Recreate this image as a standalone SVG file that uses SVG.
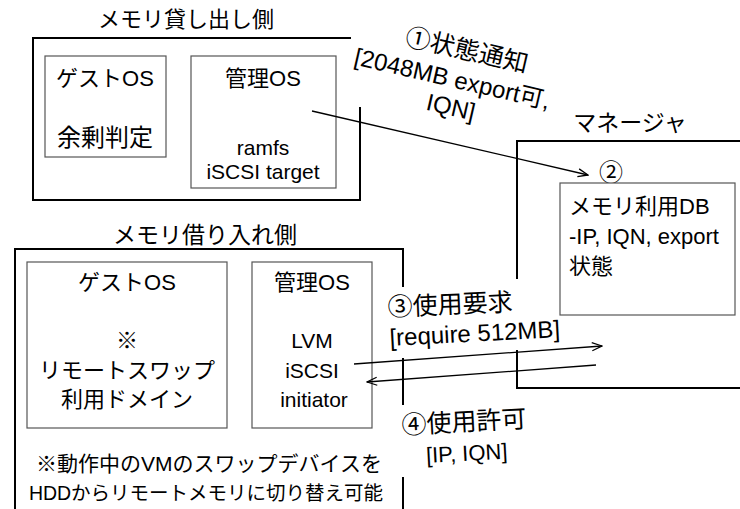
<svg xmlns="http://www.w3.org/2000/svg" width="740" height="509" viewBox="0 0 740 509">
<defs>
<marker id="arr" viewBox="0 0 12 10" markerWidth="12" markerHeight="10" refX="11" refY="5" orient="auto" markerUnits="userSpaceOnUse">
<path d="M1,1 L11,5 L1,9" fill="none" stroke="#000" stroke-width="1.3"/>
</marker>
</defs>
<style>
text{font-family:"Liberation Sans","Noto Sans CJK JP",sans-serif;fill:#000}
.frame{fill:none;stroke:#000;stroke-width:2}
.box{fill:#fff;stroke:#555;stroke-width:1.2}
.c{text-anchor:middle}
.t20{font-size:19.5px}
.t21{font-size:21px}
.t22{font-size:22px}
.t23{font-size:23px}
.t24{font-size:24px}
.t25{font-size:25px}
.conn{fill:none;stroke:#000;stroke-width:1.3}
</style>
<rect width="740" height="509" fill="#fff"/>

<g id="lender">
<text class="c t22" x="186" y="27">メモリ貸し出し側</text>
<path class="frame" d="M351,38 H33 V200 H360 V107"/>
<g id="lender-guest">
<rect class="box" x="45" y="56" width="121" height="101"/>
<text class="c t22" x="105" y="86">ゲストOS</text>
<text class="c t24" x="105" y="146">余剰判定</text>
</g>
<g id="lender-mgmt">
<rect class="box" x="191" y="56" width="145" height="132"/>
<text class="c t22" x="263" y="86">管理OS</text>
<text class="c t21" x="263" y="155">ramfs</text>
<text class="c t21" x="263" y="179">iSCSI target</text>
</g>
</g>

<g id="manager">
<text class="c t23" x="630" y="131">マネージャ</text>
<path class="frame" d="M740,141 H517 V279 M517,350 V388 H740"/>
<text class="c t24" x="611" y="181">②</text>
<g id="manager-db">
<rect class="box" x="560" y="183" width="175" height="132"/>
<text class="t22" x="569" y="214">メモリ利用DB</text>
<text class="t22" x="569" y="244">-IP, IQN, export</text>
<text class="t22" x="569" y="274">状態</text>
</g>
</g>

<g id="borrower">
<text class="c t23" x="205" y="243">メモリ借り入れ側</text>
<path class="frame" d="M15,509 V249 H403 V287 M403,358 V405 M403,477 V509"/>
<g id="borrower-guest">
<rect class="box" x="27" y="262" width="200" height="166"/>
<text class="c t22" x="127" y="290">ゲストOS</text>
<text class="c t22" x="127" y="348">※</text>
<text class="c t22" x="127" y="378">リモートスワップ</text>
<text class="c t22" x="127" y="407">利用ドメイン</text>
</g>
<g id="borrower-mgmt">
<rect class="box" x="252" y="262" width="120" height="166"/>
<text class="c t22" x="312" y="290">管理OS</text>
<text class="c t21" x="312" y="348">LVM</text>
<text class="c t21" x="312" y="378">iSCSI</text>
<text class="c t21" x="314" y="407">initiator</text>
</g>
<text class="c t21" x="209" y="471">※動作中のVMのスワップデバイスを</text>
<text class="c t20" x="206" y="500">HDDからリモートメモリに切り替え可能</text>
</g>

<g id="connectors">
<line class="conn" x1="312" y1="111" x2="588" y2="175" marker-end="url(#arr)"/>
<line class="conn" x1="354" y1="364" x2="602" y2="346" marker-end="url(#arr)"/>
<line class="conn" x1="596" y1="365" x2="367" y2="382" marker-end="url(#arr)"/>
</g>

<g id="labels">
<text class="c t25" x="465" y="58.8" transform="rotate(13 465 58.8)">①状態通知</text>
<text class="c t24" x="450.4" y="86.8" transform="rotate(13 450.4 86.8)">[2048MB export可,</text>
<text class="c t24" x="449" y="115" transform="rotate(13 449 115)">IQN]</text>
<text class="c t25" x="450.5" y="313.3" transform="rotate(-2.5 450.5 313.3)">③使用要求</text>
<text class="c t24" x="475.2" y="341.5" transform="rotate(-3 475.2 341.5)">[require 512MB]</text>
<text class="c t25" x="464.4" y="430.7" transform="rotate(-3 464.4 430.7)">④使用許可</text>
<text class="c t22" x="467.1" y="460.8" transform="rotate(-3 467.1 460.8)">[IP, IQN]</text>
</g>
</svg>
